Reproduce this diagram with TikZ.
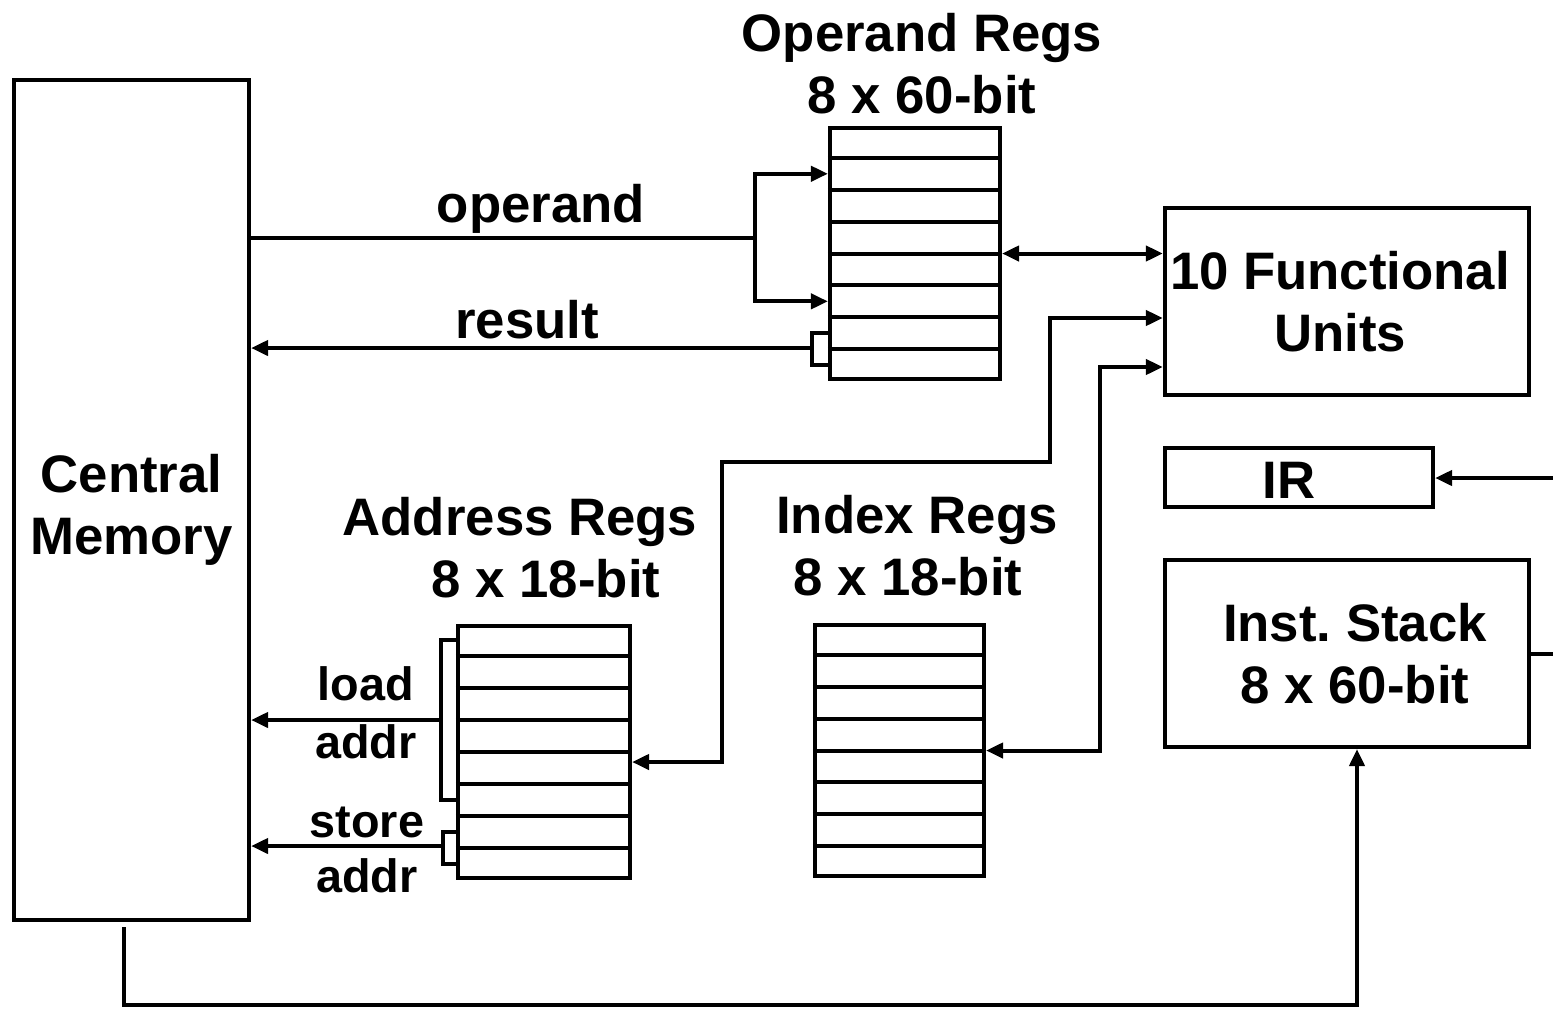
\documentclass[tikz,border=0pt]{standalone}
\usepackage{fontspec}
\setmainfont{Liberation Sans}
\usetikzlibrary{arrows.meta,calc}

\begin{document}
\begin{tikzpicture}[x=0.01cm,y=-0.01cm]
\tikzstyle{block} = [rectangle, draw = black, line width=0.04cm, inner sep=0pt]
\tikzstyle{regs} = [rectangle, draw = black, line width=0.04cm, inner sep=0pt]
\tikzstyle{title} = [inner sep=0pt, align=center, font=\fontsize{15}{17.6}\selectfont\bfseries]
\tikzstyle{small} = [inner sep=0pt, anchor=base, font=\fontsize{13.3}{15}\selectfont\bfseries]
\tikzstyle{wire} = [line width=0.04cm]
\tikzstyle{edge} = [-{Triangle[length=0.17cm,width=0.15cm]}, line width=0.04cm]
\tikzstyle{edge2} = [{Triangle[length=0.17cm,width=0.15cm]}-{Triangle[length=0.17cm,width=0.15cm]}, line width=0.04cm]
\useasboundingbox (0,0) rectangle (1553,1008);

% boxes
\node[block, minimum width=2.35cm, minimum height=8.40cm,
  label={[title, yshift=-0.1cm]center:Central\\Memory}] (mem) at (131.5,500) {};
\node[block, minimum width=3.64cm, minimum height=1.87cm,
  label={[title, xshift=-0.07cm]center:10 Functional\\Units}] (fu) at (1347,301.5) {};
\node[block, minimum width=2.68cm, minimum height=0.59cm,
  label={[title, xshift=-0.1cm, yshift=-0.03cm]center:IR}] (ir) at (1299,477.5) {};
\node[block, minimum width=3.64cm, minimum height=1.87cm,
  label={[title, xshift=0.08cm]center:Inst.\ Stack\\8 x 60-bit}] (stack) at (1347,653.5) {};

% register files, 8 rows each
\node[regs, minimum width=1.70cm, minimum height=2.51cm] (opr) at (915,253.5) {};
\node[regs, minimum width=1.72cm, minimum height=2.52cm] (adr) at (544,752) {};
\node[regs, minimum width=1.69cm, minimum height=2.51cm] (idx) at (899.5,750.5) {};
\foreach \r in {opr,adr,idx}
  \foreach \i in {1,...,7}
    \draw[wire] ($(\r.north west)!\i/8!(\r.south west)$) -- ($(\r.north east)!\i/8!(\r.south east)$);
\foreach \r in {opr,adr}
  \foreach \i in {1,...,8}
    \coordinate (\r\i) at ($(\r.north west)!{(\i-0.5)/8}!(\r.south west)$);

\node[title, anchor=north] (toper) at (922,13) {Operand Regs\\8 x 60-bit};
\node[title, anchor=north] (taddr) at (520,497) {Address Regs\\\hspace*{0.52cm}8 x 18-bit};
\node[title, anchor=north] (tindex) at (917,495) {Index Regs\\8 x 18-bit\hspace*{0.18cm}};

% labels on the buses
\node[title, anchor=base] (loper) at (541,222) {operand};
\node[title, anchor=base] (lres) at (527,338) {result};
\node[small] (lload) at (366,700) {load};
\node[small] (laddr) at (366,758) {addr};
\node[small] (lstore) at (367,837) {store};
\node[small] (lsaddr) at (367,892) {addr};

% memory <-> operand regs
\coordinate (split) at (755,238);
\draw[wire] (mem.east |- split) -- (split);
\draw[edge] (split) |- (opr2);
\draw[edge] (split) |- (opr6);
\coordinate (res) at (812,348);
\draw[wire] (opr7) -| (res) |- (opr8);
\draw[edge] (res) -- (mem.east |- res);

% address regs -> memory
\coordinate (ldc) at (441,720);
\draw[wire] (adr1) -| (ldc) |- (adr6);
\draw[edge] (ldc) -- (mem.east |- ldc);
\coordinate (stc) at (443,846);
\draw[wire] (adr7) -| (stc) |- (adr8);
\draw[edge] (stc) -- (mem.east |- stc);

% functional units
\draw[edge2] (opr.east) -- (opr.east -| fu.west);
\coordinate (abus) at (722,462);
\coordinate (fin1) at (1050,318);
\draw[edge2] (adr.east |- 0,762) -| (abus) -| (fin1) -- (fin1 -| fu.west);
\coordinate (fin2) at (1100,367);
\draw[edge2] (idx.east) -| (fin2) -- (fin2 -| fu.west);

% instruction path
\coordinate (irin) at (1553,478);
\draw[edge] (irin) -- (irin -| ir.east);
\coordinate (stout) at (1553,653);
\draw[wire] (stack.east) -- (stack.east -| stout);
\coordinate (memout) at (124,927);
\coordinate (sbus) at (1357,1005);
\draw[edge] (memout) |- (sbus) -- (sbus |- stack.south);
\end{tikzpicture}
\end{document}
